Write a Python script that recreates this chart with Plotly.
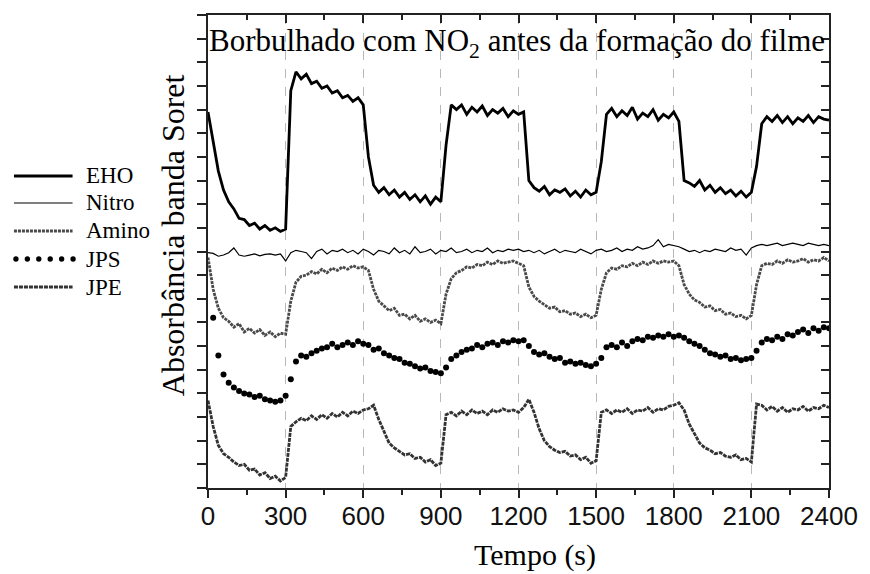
import plotly.graph_objects as go

# ---------------- data (time in s, absorbance in arbitrary stacked units) ----------------
times = list(range(0, 2401, 20))

eho = [15.9, 14.6, 13.4, 12.6, 12.1, 11.8, 11.4, 11.35, 11.1, 11.2,
       10.95, 11.1, 10.9, 11.0, 10.85, 10.95, 16.8, 17.6, 17.3, 17.5,
       17.1, 17.2, 16.9, 17.0, 16.7, 16.8, 16.5, 16.6, 16.35, 16.5,
       16.2, 14.0, 12.8, 12.5, 12.7, 12.4, 12.6, 12.3, 12.5, 12.2,
       12.4, 12.1, 12.35, 12.0, 12.3, 12.1, 14.5, 16.2, 16.0, 16.2,
       15.8, 16.1, 15.9, 16.15, 15.75, 16.0, 15.85, 16.05, 15.7, 15.95,
       15.8, 15.9, 13.0, 12.7, 12.55, 12.75, 12.4, 12.6, 12.5, 12.65,
       12.35, 12.55, 12.3, 12.6, 12.4, 12.5, 13.8, 15.8, 16.05, 15.7,
       15.95, 15.75, 16.1, 15.6, 15.85, 15.7, 16.0, 15.55, 15.8, 15.65,
       15.9, 15.5, 13.0, 12.9, 12.75, 13.0, 12.6, 12.8, 12.5, 12.7,
       12.45, 12.6, 12.35, 12.55, 12.3, 12.5, 13.6, 15.4, 15.7, 15.5,
       15.75, 15.45, 15.7, 15.4, 15.65, 15.5, 15.75, 15.45, 15.7, 15.6,
       15.55]

nitro = [9.95, 9.92, 9.8, 9.85, 9.95, 10.15, 9.85, 9.8, 9.85, 9.9,
         9.82, 9.88, 9.9, 9.85, 9.9, 9.6, 9.95, 10.05, 10.0, 9.95,
         9.7, 10.0, 10.1, 9.9, 10.05, 10.0, 10.1, 9.95, 10.05, 9.9,
         10.1, 10.0, 9.85, 10.05, 10.0, 9.9, 10.15, 9.95, 10.05, 9.9,
         10.2, 9.95, 10.0, 10.1, 9.9, 10.05, 10.0, 10.15, 9.95, 10.0,
         10.1, 9.95, 10.05, 10.0, 10.15, 9.95, 10.05, 10.0, 10.1, 10.05,
         10.1, 10.0, 10.05, 9.95, 10.05, 9.9, 10.0, 10.1, 9.95, 10.05,
         10.0, 9.95, 10.1, 10.0, 9.9, 10.05, 10.1, 10.0, 10.05, 10.15,
         10.0, 10.1, 10.05, 10.2, 10.1, 10.15, 10.25, 10.5, 10.2, 10.3,
         10.25, 10.2, 10.1, 10.0, 10.05, 9.95, 10.05, 10.0, 10.1, 10.05,
         10.0, 10.15, 10.05, 10.1, 9.85, 10.15, 10.25, 10.3, 10.25, 10.3,
         10.35, 10.25, 10.3, 10.35, 10.3, 10.25, 10.35, 10.3, 10.25, 10.3,
         10.25]

amino = [9.75, 8.4, 7.6, 7.2, 7.05, 6.8, 6.95, 6.6, 6.75, 6.55,
         6.7, 6.45, 6.6, 6.4, 6.55, 6.5, 7.9, 8.7, 8.95, 9.0,
         9.15, 9.05, 9.25, 9.1, 9.3, 9.2, 9.35, 9.25, 9.4, 9.3,
         9.35, 9.2, 8.4, 7.9, 7.7, 7.5, 7.6, 7.3, 7.35, 7.15,
         7.3, 7.05, 7.15, 7.0, 7.1, 6.95, 8.2, 8.85, 9.1, 9.2,
         9.35, 9.3, 9.45, 9.4, 9.55, 9.45, 9.6, 9.5, 9.55, 9.6,
         9.5, 9.4, 8.5, 8.1, 7.9, 7.75, 7.6, 7.65, 7.45, 7.5,
         7.35, 7.4, 7.25, 7.35, 7.2, 7.3, 8.4, 9.1, 9.3, 9.25,
         9.4, 9.35, 9.5, 9.4, 9.55, 9.45, 9.6, 9.5, 9.6, 9.55,
         9.6, 9.4, 8.6, 8.2, 7.95, 7.85, 7.65, 7.7, 7.5, 7.55,
         7.35, 7.4, 7.25, 7.3, 7.15, 7.3, 8.6, 9.4, 9.5, 9.45,
         9.6, 9.5, 9.65, 9.55, 9.6, 9.7, 9.55, 9.65, 9.6, 9.75,
         9.6]

jps = [None, 7.2, 5.6, 4.8, 4.45, 4.25, 4.1, 4.0, 3.95, 3.85,
       3.9, 3.75, 3.7, 3.65, 3.7, 3.9, 4.6, 5.35, 5.6, 5.55,
       5.7, 5.8, 5.9, 5.95, 6.1, 5.95, 6.05, 6.15, 6.05, 6.2,
       6.1, 6.05, 5.85, 5.9, 5.7, 5.6, 5.5, 5.45, 5.3, 5.25,
       5.15, 5.05, 5.1, 4.95, 4.9, 4.85, 5.1, 5.45, 5.6, 5.75,
       5.85, 5.9, 6.05, 5.95, 6.1, 6.15, 6.05, 6.2, 6.15, 6.25,
       6.2, 6.25, 6.0, 5.75, 5.65, 5.7, 5.55, 5.45, 5.5, 5.3,
       5.35, 5.25, 5.3, 5.2, 5.15, 5.25, 5.5, 5.95, 6.05, 5.95,
       6.15, 6.0, 6.2, 6.3, 6.25, 6.4, 6.35, 6.45, 6.4, 6.5,
       6.4, 6.45, 6.35, 6.2, 6.1, 6.0, 5.85, 5.7, 5.65, 5.55,
       5.6, 5.45, 5.5, 5.4, 5.45, 5.5, 5.8, 6.15, 6.3, 6.25,
       6.4, 6.3, 6.5, 6.45, 6.6, 6.7, 6.55, 6.75, 6.65, 6.8,
       6.75]

jpe = [3.7, 2.6, 1.8, 1.45, 1.3, 1.1, 0.95, 1.0, 0.75, 0.8,
       0.55, 0.65, 0.4, 0.5, 0.3, 0.45, 2.6, 2.8, 2.95, 2.85,
       3.05, 2.9, 3.1, 2.95, 3.15, 3.0, 3.2, 3.05, 3.25, 3.15,
       3.3, 3.35, 3.5, 2.9, 2.4, 1.9, 1.7, 1.55, 1.4, 1.45,
       1.25, 1.3, 1.1, 1.2, 0.95, 1.05, 3.1, 3.2, 3.05, 3.25,
       3.1, 3.3, 3.15, 3.25, 3.1, 3.3, 3.2, 3.35, 3.25, 3.3,
       3.2, 3.4, 3.75, 3.2, 2.5, 2.0, 1.75, 1.6, 1.5, 1.55,
       1.35, 1.4, 1.2, 1.3, 1.05, 1.15, 3.2, 3.3, 3.15, 3.3,
       3.2, 3.35, 3.15, 3.3, 3.25, 3.4, 3.2, 3.35, 3.3, 3.45,
       3.5, 3.6, 3.3, 2.7, 2.3, 1.9, 1.7, 1.6, 1.45, 1.5,
       1.35, 1.3, 1.4, 1.2, 1.25, 1.1, 3.55, 3.5, 3.3, 3.45,
       3.25, 3.4, 3.2, 3.35, 3.3, 3.45, 3.25, 3.4, 3.35, 3.5,
       3.4]

x_ticks = [0, 300, 600, 900, 1200, 1500, 1800, 2100, 2400]
x_minor = [150, 450, 750, 1050, 1350, 1650, 1950, 2250]
y_ticks = list(range(0, 21))
legend_names = ["EHO", "Nitro", "Amino", "JPS", "JPE"]

title_text = "Borbulhado com NO<sub>2</sub> antes da formação do filme"
x_title = "Tempo (s)"
y_title = "Absorbância banda Soret"

# ---------------- figure ----------------
W, H = 870, 574
L, R, T, B = 208, 37, 15, 86
PW, PH = W - L - R, H - T - B

def px(xp):
    return (xp - L) / PW

def py(yp):
    return (H - B - yp) / PH

SERIF = "Liberation Serif, Times New Roman, serif"
SANS = "Liberation Sans, Arial, sans-serif"

fig = go.Figure()
fig.add_trace(go.Scatter(x=times, y=amino, mode="lines", name="Amino",
                         line=dict(color="#4a4a4a", width=2.8, dash="3px,1px")))
fig.add_trace(go.Scatter(x=times, y=jpe, mode="lines", name="JPE",
                         line=dict(color="#333333", width=2.8, dash="4px,1px")))
fig.add_trace(go.Scatter(x=times, y=jps, mode="markers", name="JPS",
                         marker=dict(color="black", size=6)))
fig.add_trace(go.Scatter(x=times, y=nitro, mode="lines", name="Nitro",
                         line=dict(color="black", width=1.2)))
fig.add_trace(go.Scatter(x=times, y=eho, mode="lines", name="EHO",
                         line=dict(color="black", width=2.8)))
# helper trace so the mirrored top/right axes are drawn
fig.add_trace(go.Scatter(x=[None], y=[None], xaxis="x2", yaxis="y2",
                         showlegend=False, hoverinfo="skip"))

axis_col = "#222222"
fig.update_layout(
    width=W, height=H,
    margin=dict(l=L, r=R, t=T, b=B),
    paper_bgcolor="white", plot_bgcolor="white",
    showlegend=False,
    xaxis=dict(range=[0, 2400], tickvals=x_ticks, ticktext=[str(v) for v in x_ticks],
               ticks="outside", ticklen=8, tickwidth=1.5, tickcolor=axis_col,
               minor=dict(tickvals=x_minor, ticks="outside", ticklen=5, tickwidth=1.5,
                          tickcolor=axis_col, showgrid=False),
               showline=True, linewidth=2, linecolor=axis_col,
               showgrid=True, gridcolor="#b8b8b8", griddash="dash", gridwidth=1,
               zeroline=False, tickfont=dict(family=SANS, size=26, color="#111"),
               ticklabelstandoff=-4),
    xaxis2=dict(range=[0, 2400], overlaying="x", side="top", anchor="y",
                tickvals=x_ticks, ticks="inside", ticklen=8, tickwidth=1.5, tickcolor=axis_col,
                minor=dict(tickvals=x_minor, ticks="inside", ticklen=5, tickwidth=1.5,
                           tickcolor=axis_col),
                showticklabels=False, showline=True, linewidth=2, linecolor=axis_col,
                showgrid=False, zeroline=False),
    yaxis=dict(range=[0, 20], tickvals=y_ticks, ticks="outside", ticklen=9, tickwidth=1.5,
               tickcolor=axis_col, showticklabels=False, showline=True, linewidth=2,
               linecolor=axis_col, showgrid=False, zeroline=False),
    yaxis2=dict(range=[0, 20], overlaying="y", side="right", anchor="x",
                tickvals=y_ticks, ticks="inside", ticklen=8, tickwidth=1.5, tickcolor=axis_col,
                showticklabels=False, showline=True, linewidth=2, linecolor=axis_col,
                showgrid=False, zeroline=False),
)

annotations = [
    dict(text=title_text, x=px(519), y=py(43), xref="paper", yref="paper",
         xanchor="center", yanchor="middle", showarrow=False,
         font=dict(family=SERIF, size=31, color="black")),
    dict(text=y_title, x=px(173), y=py(235), xref="paper", yref="paper",
         xanchor="center", yanchor="middle", textangle=-90, showarrow=False,
         font=dict(family=SERIF, size=32, color="black")),
    dict(text=x_title, x=px(537), y=py(555), xref="paper", yref="paper",
         xanchor="center", yanchor="middle", showarrow=False,
         font=dict(family=SERIF, size=30, color="black")),
]

# manual legend (left of the plot)
leg_y = [176, 203, 231, 259, 287]
x0, x1, xt = 12.7, 71.7, 83
shapes = []
styles = [dict(color="black", width=3, dash="solid"),
          dict(color="black", width=1.2, dash="solid"),
          dict(color="#4a4a4a", width=3, dash="3px,1px"),
          None,
          dict(color="#333333", width=3, dash="4px,1px")]
for name, yy, st in zip(legend_names, leg_y, styles):
    if st is None:
        for k in range(6):
            cx = x0 + 2 + k * 11.5
            shapes.append(dict(type="circle", xref="paper", yref="paper",
                               x0=px(cx - 2.7), x1=px(cx + 2.7), y0=py(yy + 2.7), y1=py(yy - 2.7),
                               fillcolor="black", line=dict(width=0)))
    else:
        shapes.append(dict(type="line", xref="paper", yref="paper",
                           x0=px(x0), x1=px(x1), y0=py(yy), y1=py(yy), line=st))
    annotations.append(dict(text=name, x=px(xt), y=py(yy), xref="paper", yref="paper",
                            xanchor="left", yanchor="middle", showarrow=False,
                            font=dict(family=SERIF, size=23, color="black")))

fig.update_layout(annotations=annotations, shapes=shapes)
fig.write_html("out.html")
